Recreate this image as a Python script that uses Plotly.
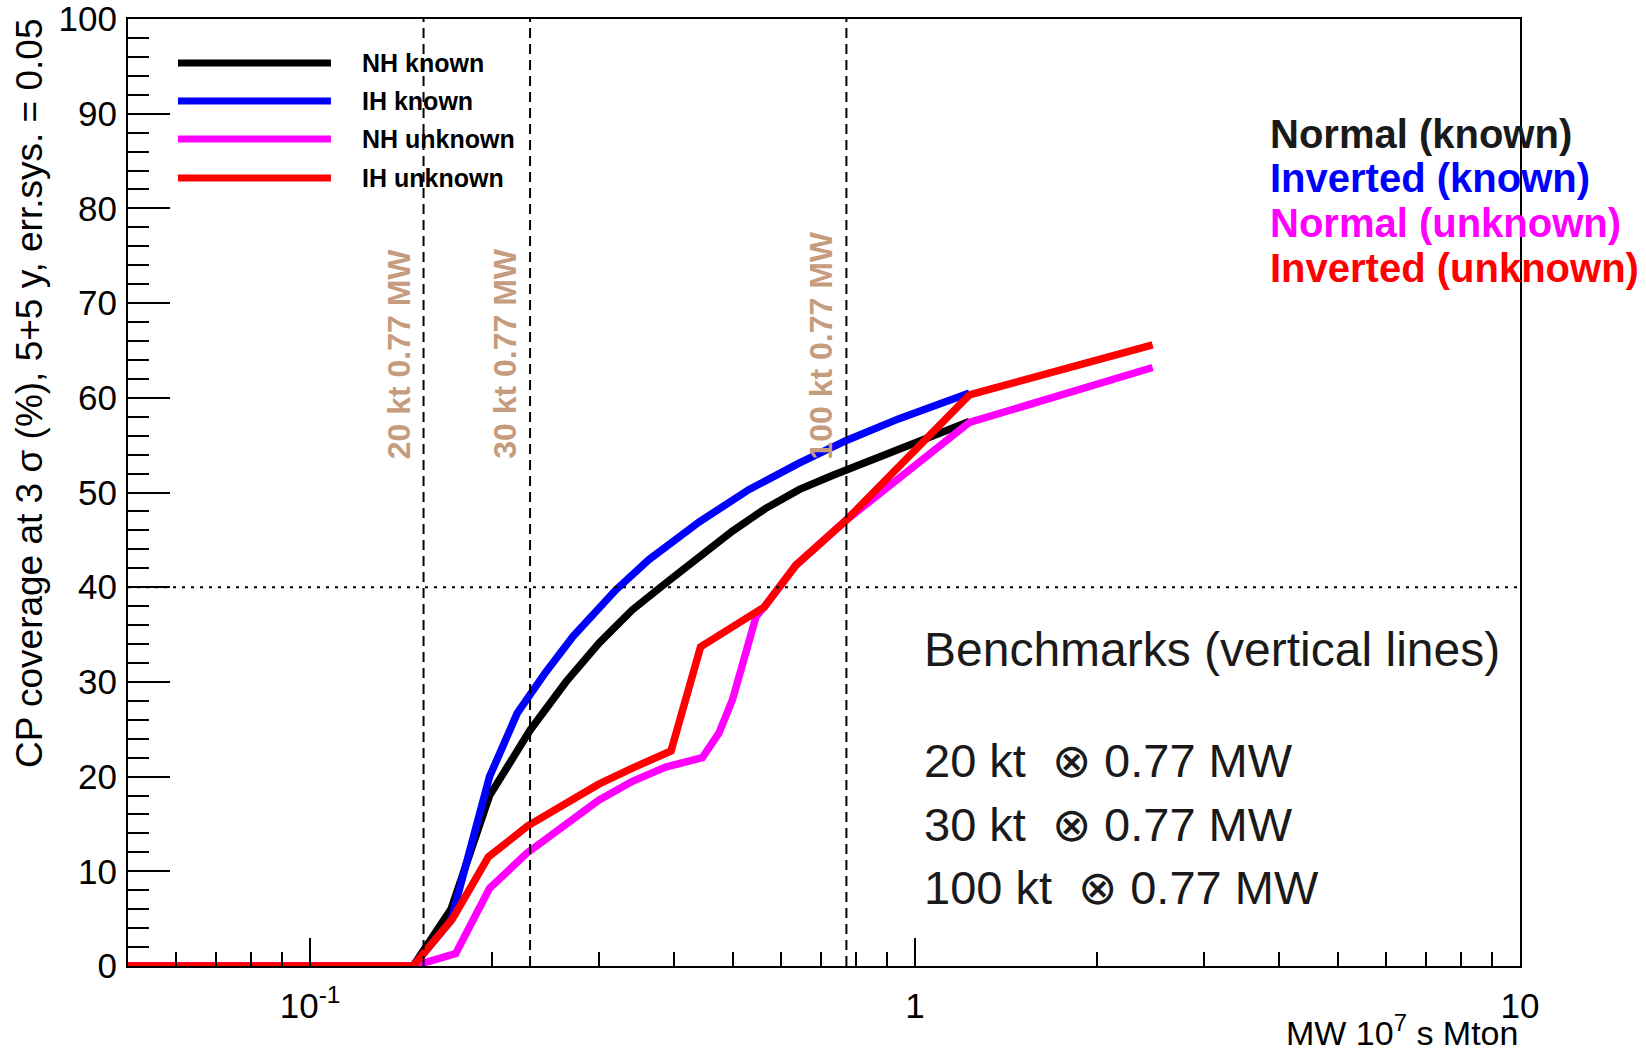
import math
import plotly.graph_objects as go

# Exposure (MW 10^7 s Mton) and CP coverage (%) for each hierarchy scenario
exp_nh_known = [0.05, 0.148, 0.171, 0.198, 0.231, 0.2648, 0.3004, 0.3408, 0.3867, 0.4394,
                0.4985, 0.5656, 0.643, 0.73, 0.83, 0.941, 1.07, 1.23]
cov_nh_known = [0, 0, 6.0, 18.0, 24.9, 30.0, 34.1, 37.6, 40.4, 43.1,
                45.9, 48.3, 50.3, 51.8, 53.2, 54.5, 55.9, 57.5]

exp_ih_known = [0.05, 0.148, 0.171, 0.198, 0.22, 0.245, 0.272, 0.32, 0.363, 0.44,
                0.531, 0.643, 0.77, 0.941, 1.23]
cov_ih_known = [0, 0, 4.8, 20.0, 26.7, 31.0, 34.8, 39.7, 42.9, 46.9,
                50.3, 53.1, 55.5, 57.8, 60.5]

exp_nh_unknown = [0.05, 0.148, 0.174, 0.198, 0.228, 0.265, 0.30, 0.341, 0.387, 0.445,
                  0.474, 0.499, 0.546, 0.563, 0.635, 0.77, 1.23, 2.47]
cov_nh_unknown = [0, 0, 1.3, 8.2, 11.9, 15.1, 17.5, 19.5, 21.0, 22.0,
                  24.6, 28.1, 36.9, 37.9, 42.3, 47.1, 57.4, 63.2]

exp_ih_unknown = [0.05, 0.148, 0.172, 0.197, 0.229, 0.265, 0.30, 0.341, 0.395, 0.442,
                  0.563, 0.635, 0.77, 1.23, 2.47]
cov_ih_unknown = [0, 0, 5.0, 11.5, 14.8, 17.3, 19.2, 20.9, 22.7, 33.7,
                  37.9, 42.3, 47.1, 60.3, 65.6]

series_names = ["NH known", "IH known", "NH unknown", "IH unknown"]
series_labels = ["Normal (known)", "Inverted (known)", "Normal (unknown)", "Inverted (unknown)"]
series_colors = ["#000000", "#0000ff", "#ff00ff", "#ff0000"]
series_label_colors = ["#1a1a1a", "#0000ff", "#ff00ff", "#ff0000"]

# Benchmark configurations: detector mass (kt) with 0.77 MW beam over 10 years
bench_mass_kt = [20, 30, 100]
bench_power_mw = 0.77
bench_years = 10
bench_x = [m / 1000 * bench_power_mw * bench_years for m in bench_mass_kt]
bench_labels = [f"{m} kt 0.77 MW" for m in bench_mass_kt]
bench_lines = [f"{m} kt  \u2297 0.77 MW" for m in bench_mass_kt]

threshold_cov = 40
x_min, x_max = 0.05, 10

x_tickvals = [0.1, 1, 10]
x_ticktext = ["10<sup>-1</sup>", "1", "10"]
x_minor = [0.05, 0.06, 0.07, 0.08, 0.09, 0.2, 0.3, 0.4, 0.5, 0.6, 0.7, 0.8, 0.9,
           2, 3, 4, 5, 6, 7, 8, 9]
y_tickvals = list(range(0, 101, 10))
y_minor = list(range(0, 101, 2))

FONT = "Liberation Sans, Arial, Helvetica, sans-serif"
BOLD_NARROW = "Liberation Sans Narrow, Liberation Sans, Arial, sans-serif"

fig = go.Figure()

curves = [
    (exp_nh_known, cov_nh_known),
    (exp_ih_known, cov_ih_known),
    (exp_nh_unknown, cov_nh_unknown),
    (exp_ih_unknown, cov_ih_unknown),
]
for (xs, ys), name, color in zip(curves, series_names, series_colors):
    fig.add_trace(go.Scatter(x=xs, y=ys, mode="lines", name=name,
                             line=dict(color=color, width=7.5),
                             showlegend=False, hoverinfo="skip"))

# 40 % reference line
fig.add_trace(go.Scatter(x=[x_min, x_max], y=[threshold_cov, threshold_cov], mode="lines",
                         line=dict(color="black", width=2, dash="3px,6px"),
                         showlegend=False, hoverinfo="skip"))

# benchmark vertical lines
for bx in bench_x:
    fig.add_trace(go.Scatter(x=[bx, bx], y=[0, 100], mode="lines",
                             line=dict(color="black", width=2, dash="10px,6px"),
                             showlegend=False, hoverinfo="skip"))

annotations = []
for bx, lab in zip(bench_x, bench_labels):
    annotations.append(dict(x=math.log10(bx), y=53.3, xref="x", yref="y",
                            text=f"<b>{lab}</b>", textangle=-90, showarrow=False,
                            xanchor="center", yanchor="bottom", xshift=-25,
                            font=dict(family=BOLD_NARROW, size=32, color="#c69c7f")))

# legend in the top-left corner
leg_y = [0.9535, 0.9134, 0.8733, 0.8321]
shapes = []
for yy, name, color in zip(leg_y, series_names, series_colors):
    shapes.append(dict(type="line", xref="paper", yref="paper", x0=0.0359, x1=0.1458,
                       y0=yy, y1=yy, line=dict(color=color, width=7)))
    annotations.append(dict(x=0.1667, y=yy, xref="paper", yref="paper", text=f"<b>{name}</b>",
                            showarrow=False, xanchor="left", yanchor="middle",
                            font=dict(family=FONT, size=25, color="black")))

# coloured scenario labels on the right
lab_y = [0.8786, 0.8321, 0.7846, 0.7371]
for yy, lab, color in zip(lab_y, series_labels, series_label_colors):
    annotations.append(dict(x=0.819, y=yy, xref="paper", yref="paper", text=f"<b>{lab}</b>",
                            showarrow=False, xanchor="left", yanchor="middle",
                            font=dict(family=FONT, size=40, color=color)))

# benchmark description block
annotations.append(dict(x=0.5704, y=0.3347, xref="paper", yref="paper",
                        text="Benchmarks (vertical lines)", showarrow=False,
                        xanchor="left", yanchor="middle",
                        font=dict(family=FONT, size=48, color="#1a1a1a")))
for yy, txt in zip([0.2165, 0.1499, 0.0834], bench_lines):
    annotations.append(dict(x=0.5704, y=yy, xref="paper", yref="paper", text=txt,
                            showarrow=False, xanchor="left", yanchor="middle",
                            font=dict(family=FONT, size=47, color="#1a1a1a")))

# axis titles
annotations.append(dict(x=-0.0711, y=1.0, xref="paper", yref="paper",
                        text="CP coverage at 3 \u03c3 (%), 5+5 y, err.sys. = 0.05",
                        textangle=-90, showarrow=False, xanchor="center", yanchor="top",
                        yshift=3, font=dict(family=FONT, size=37, color="black")))
annotations.append(dict(x=1.0, y=-0.068, xref="paper", yref="paper",
                        text="MW 10<sup>7</sup> s Mton", showarrow=False,
                        xanchor="right", yanchor="middle",
                        font=dict(family=FONT, size=34, color="black")))

fig.update_layout(
    width=1646, height=1054,
    margin=dict(l=128, r=126, t=19, b=88, autoexpand=False),
    paper_bgcolor="white", plot_bgcolor="white",
    shapes=shapes, annotations=annotations,
    font=dict(family=FONT, color="black"),
)

fig.update_xaxes(
    type="log", range=[math.log10(x_min), math.log10(x_max)],
    tickmode="array", tickvals=x_tickvals, ticktext=x_ticktext,
    ticks="inside", ticklen=28, tickwidth=2, tickcolor="black",
    minor=dict(tickmode="array", tickvals=x_minor, ticks="inside", ticklen=14,
               tickwidth=2, tickcolor="black", showgrid=False),
    showline=True, linecolor="black", linewidth=2, mirror=True,
    showgrid=False, zeroline=False, automargin=False,
    tickfont=dict(family=FONT, size=35, color="black"),
    ticklabelstandoff=8, ticklabeloverflow="allow",
)
fig.update_yaxes(
    range=[0, 100.001], tickmode="array", tickvals=y_tickvals,
    ticks="inside", ticklen=42, tickwidth=2, tickcolor="black",
    minor=dict(tickmode="array", tickvals=y_minor, ticks="inside",
               ticklen=21, tickwidth=2, tickcolor="black", showgrid=False),
    showline=True, linecolor="black", linewidth=2, mirror=True,
    showgrid=False, zeroline=False, automargin=False,
    tickfont=dict(family=FONT, size=35, color="black"),
    ticklabelstandoff=2, ticklabeloverflow="allow",
)

fig.write_html("out.html")
